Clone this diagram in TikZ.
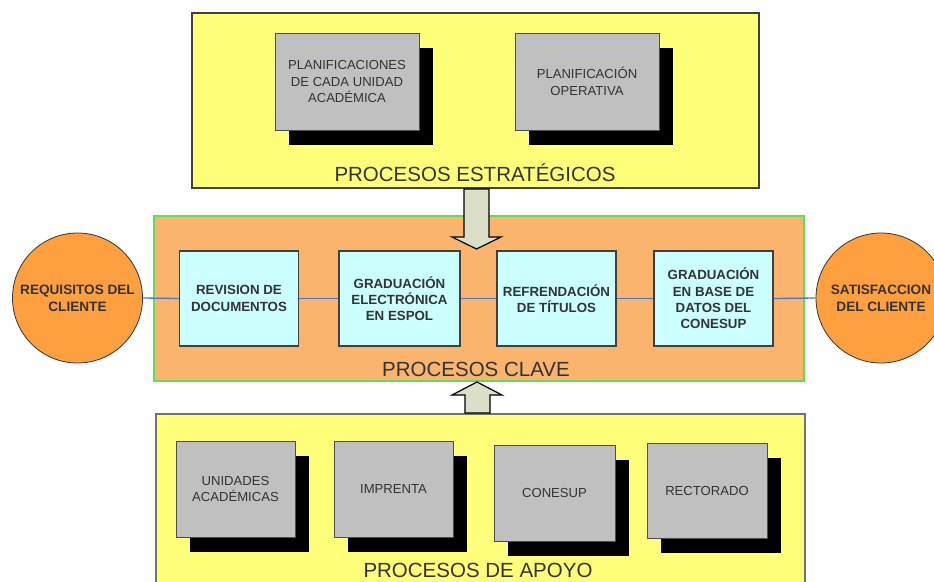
\documentclass[tikz,border=0pt]{standalone}
\usepackage{fontspec}
\setmainfont{Liberation Sans}
\usetikzlibrary{shadows}
\definecolor{panelyellow}{HTML}{FFFF7A}
\definecolor{boxgray}{HTML}{C0C0C0}
\definecolor{keyorange}{HTML}{FAB46E}
\definecolor{keygreen}{HTML}{5EDC5E}
\definecolor{cyanfill}{HTML}{CCFFFF}
\definecolor{circorange}{HTML}{FFA040}
\definecolor{linkblue}{HTML}{4A78C8}
\definecolor{arrowfill}{HTML}{DCDFC8}
\definecolor{txt}{HTML}{333333}
\begin{document}
\begin{tikzpicture}[x=1pt,y=-1pt,
  panel/.style={fill=panelyellow,draw=black!75,line width=1.5pt},
  graybox/.style={fill=boxgray,draw=black!70,line width=0.8pt,align=center,inner sep=0pt,
    text=txt,font=\fontsize{13.1}{16.5}\selectfont,
    drop shadow={shadow xshift=14pt,shadow yshift=-15pt,fill=black,opacity=1}},
  cyanbox/.style={fill=cyanfill,draw=black!75,line width=1.2pt,align=center,inner sep=0pt,
    text=txt,font=\bfseries\fontsize{13.3}{16.3}\selectfont,minimum width=119pt,minimum height=95pt},
  circ/.style={circle,fill=circorange,draw=black!80,line width=0.8pt,minimum size=130pt,inner sep=0pt,
    align=center,text=txt,font=\bfseries\fontsize{13.6}{17}\selectfont},
  link/.style={draw=linkblue,line width=1.3pt},
  paneltitle/.style={text=txt,font=\fontsize{20.5}{21}\selectfont,inner sep=0pt},
  blockarrow/.style={fill=arrowfill,draw=black,line width=1.2pt,line join=miter}]
\useasboundingbox (0,0) rectangle (934,581);
\fill[white] (0,0) rectangle (934,581);

% strategic panel
\node[panel,minimum width=567pt,minimum height=175pt,inner sep=0pt] (estr) at (475.5,100.5) {};
\node[graybox,minimum width=144pt,minimum height=97pt] (plan1) at (347,81.5) {PLANIFICACIONES\\DE CADA UNIDAD\\ACADÉMICA};
\node[graybox,minimum width=144pt,minimum height=97pt] (plan2) at (587,81.5) {PLANIFICACIÓN\\OPERATIVA};
\node[paneltitle] (estrlabel) at (475,173) {PROCESOS ESTRATÉGICOS};

% key processes panel
\node[fill=keyorange,draw=keygreen,line width=1.5pt,minimum width=650pt,minimum height=165pt,inner sep=0pt] (clave) at (479,298.5) {};
\node[cyanbox] (b1) at (239,298.5) {REVISION DE\\DOCUMENTOS};
\node[cyanbox,minimum width=121pt] (b2) at (399.5,298.5) {GRADUACIÓN\\ELECTRÓNICA\\EN ESPOL};
\node[cyanbox] (b3) at (556.5,298.5) {REFRENDACIÓN\\DE TÍTULOS};
\node[cyanbox] (b4) at (713.5,298.5) {GRADUACIÓN\\EN BASE DE\\DATOS DEL\\CONESUP};
\node[paneltitle] (clavelabel) at (476,369) {PROCESOS CLAVE};

% customer circles
\node[circ] (req) at (77.5,298) {REQUISITOS DEL\\CLIENTE};
\node[circ] (sat) at (881,298) {SATISFACCION\\DEL CLIENTE};
\draw[link] (req.east) -- (b1.west);
\draw[link] (b1) -- (b2);
\draw[link] (b2) -- (b3);
\draw[link] (b3) -- (b4);
\draw[link] (b4.east) -- (sat.west);

% support panel
\node[fill=panelyellow,draw=black!55,line width=1.5pt,minimum width=649pt,minimum height=190pt,inner sep=0pt,anchor=north west] (apoyo) at (155,413) {};
\node[graybox,minimum width=119pt,minimum height=96pt] (s1) at (235.5,489) {UNIDADES\\ACADÉMICAS};
\node[graybox,minimum width=119pt,minimum height=96pt] (s2) at (393.5,489) {IMPRENTA};
\node[graybox,minimum width=121pt,minimum height=96pt] (s3) at (554.5,493) {CONESUP};
\node[graybox,minimum width=120pt,minimum height=95pt] (s4) at (707,490.5) {RECTORADO};
\node[paneltitle] (apoyolabel) at (478,570) {PROCESOS DE APOYO};

% block arrows
\draw[blockarrow] (464,189) -- (489,189) -- (489,237) -- (501,237) -- (476.5,249) -- (452,237) -- (464,237) -- cycle;
\draw[blockarrow] (465,413) -- (465,395) -- (452,395) -- (477,382) -- (502,395) -- (490,395) -- (490,413) -- cycle;
\end{tikzpicture}
\end{document}
